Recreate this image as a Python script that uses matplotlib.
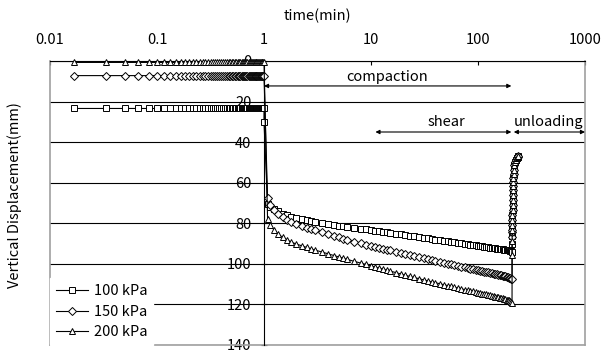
import numpy as np
import matplotlib
matplotlib.use("Agg")
import matplotlib.pyplot as plt

plt.rcParams['font.family'] = ['Noto Sans CJK JP', 'DejaVu Sans']
plt.rcParams['font.size'] = 10

# loading stages (kPa) and marker per stage
labels = ['100 kPa', '150 kPa', '200 kPa']
markers = ['s', 'D', '^']
msizes = [4.0, 4.0, 4.6]

# seating period: one reading per second during the first minute
t_seat_sec = [1, 2, 3, 4, 5, 6, 7, 8, 9, 10, 11, 12, 13, 14, 15, 16, 17, 18, 19, 20,
              21, 22, 23, 24, 25, 26, 27, 28, 29, 30, 31, 32, 33, 34, 35, 36, 37, 38, 39, 40,
              41, 42, 43, 44, 45, 46, 47, 48, 49, 50, 51, 52, 53, 54, 55, 56, 57, 58, 59, 60]
d_seat = [23.4, 7.2, 0.7]

# extra reading right at t = 1 min (100 kPa only)
t_step = [[1.0], [], []]
d_step = [[30.3], [], []]

# compaction / shear stage (min)
t_comp = [1.08, 1.15, 1.25, 1.35, 1.5, 1.65, 1.8, 2.0,
          2.25, 2.5, 2.75, 3.0, 3.5, 4.0, 4.5, 5.0,
          5.5, 6, 7, 8, 9, 10, 11, 12,
          13, 14, 15, 17, 19, 21, 23, 25,
          28, 31, 34, 37, 40, 44, 48, 52,
          56, 60, 65, 70, 75, 80, 85, 90,
          95, 100, 105, 110, 115, 120, 125, 130,
          135, 140, 145, 150, 155, 160, 165, 170,
          175, 180, 185, 190, 195, 200, 205, 208]

d_100 = [70.5, 72.0, 73.2, 74.1, 75.2, 76.0, 76.8, 77.4,
         78.0, 78.5, 79.0, 79.3, 79.8, 80.3, 80.7, 81.1,
         81.4, 81.7, 82.2, 82.6, 83.0, 83.3, 83.6, 83.9,
         84.2, 84.4, 84.7, 85.1, 85.5, 85.8, 86.1, 86.4,
         86.8, 87.1, 87.4, 87.7, 88.0, 88.3, 88.6, 88.9,
         89.1, 89.3, 89.6, 89.9, 90.1, 90.3, 90.5, 90.7,
         90.9, 91.1, 91.3, 91.4, 91.6, 91.7, 91.9, 92.0,
         92.1, 92.2, 92.4, 92.5, 92.6, 92.7, 92.8, 92.9,
         93.0, 93.1, 93.2, 93.3, 93.4, 93.6, 93.8, 94.2]

d_150 = [67.7, 71.0, 73.5, 75.2, 77.0, 78.3, 79.3, 80.4,
         81.4, 82.2, 82.9, 83.5, 84.5, 85.4, 86.2, 86.9,
         87.5, 88.1, 89.0, 89.8, 90.5, 91.1, 91.6, 92.1,
         92.6, 93.0, 93.4, 94.1, 94.7, 95.3, 95.8, 96.2,
         96.8, 97.3, 97.8, 98.2, 98.6, 99.1, 99.5, 99.9,
         100.3, 100.6, 101.0, 101.4, 101.7, 102.0, 102.3, 102.6,
         102.9, 103.1, 103.4, 103.6, 103.8, 104.0, 104.2, 104.4,
         104.6, 104.8, 105.0, 105.2, 105.4, 105.5, 105.7, 105.9,
         106.0, 106.2, 106.4, 106.6, 106.8, 107.0, 107.3, 107.6]

d_200 = [78.0, 81.0, 83.5, 85.2, 87.0, 88.2, 89.3, 90.2,
         91.1, 91.9, 92.6, 93.2, 94.2, 95.1, 95.9, 96.6,
         97.2, 97.8, 98.8, 99.6, 100.3, 101.0, 101.6, 102.1,
         102.6, 103.1, 103.5, 104.3, 105.0, 105.7, 106.2, 106.7,
         107.3, 107.9, 108.4, 108.9, 109.3, 109.8, 110.3, 110.7,
         111.1, 111.5, 111.9, 112.3, 112.7, 113.0, 113.3, 113.6,
         113.9, 114.2, 114.5, 114.7, 114.9, 115.1, 115.3, 115.5,
         115.7, 115.9, 116.1, 116.3, 116.5, 116.7, 116.8, 117.0,
         117.2, 117.4, 117.6, 117.8, 118.0, 118.3, 118.7, 119.1]

d_comp = [d_100, d_150, d_200]

# first rebound readings, then the common unloading curve
t_reb = [[208.2, 208.4], [208.2, 208.4], [208.2, 208.4]]
d_reb = [[90.0, 86.5], [87.0, 84.5], [95.5, 88.5]]

t_unl = [208.5, 209, 209.5, 210, 210.5, 211, 211.5, 212, 212.5, 213,
         213.5, 214, 215, 216, 218, 221, 225, 230, 235, 238]
d_unl = [83.5, 81.0, 78.5, 76.0, 73.5, 71.0, 68.5, 66.0, 63.5, 61.5,
         59.5, 57.5, 55.5, 53.5, 51.5, 50.0, 48.8, 47.8, 47.2, 47.0]

fig = plt.figure(figsize=(6.03, 3.52), dpi=100)
ax = fig.add_axes([50 / 603, 7 / 352, 535 / 603, 284 / 352])

t_seat = np.array(t_seat_sec) / 60.0
for i in range(3):
    t = np.concatenate([t_seat, t_step[i], t_comp, t_reb[i], t_unl])
    d = np.concatenate([np.full(len(t_seat), d_seat[i]), d_step[i], d_comp[i], d_reb[i], d_unl])
    ax.plot(t, d, color='k', lw=0.8, marker=markers[i], ms=msizes[i],
            mfc='white', mec='k', mew=0.7, label=labels[i], zorder=3,
            clip_on=False)

ax.set_xscale('log')
ax.set_xlim(0.01, 1000)
ax.set_ylim(140, 0)

xt = [0.01, 0.1, 1, 10, 100, 1000]
ax.set_xticks(xt)
ax.set_xticklabels(['0.01', '0.1', '1', '10', '100', '1000'])
ax.xaxis.set_minor_locator(matplotlib.ticker.NullLocator())
ax.xaxis.tick_top()
ax.xaxis.set_label_position('top')
ax.tick_params(axis='x', direction='in', length=3, pad=10, labelsize=10.5)
ax.set_xlabel('time(min)', labelpad=9, fontsize=10.5)

ax.set_yticks(range(0, 141, 20))
ax.tick_params(axis='y', direction='inout', length=4, pad=7, labelsize=10.5)
ax.yaxis.grid(True, color='k', lw=0.8)
ax.set_axisbelow(True)

# y axis sits at t = 1 min
ax.spines['left'].set_position(('data', 1))
ax.spines['left'].set_color('k')
ax.spines['left'].set_zorder(2.6)
ax.spines['top'].set_color('k')
for s in ['right', 'bottom']:
    ax.spines[s].set_color('#a0a0a0')
    ax.spines[s].set_linewidth(1.2)
ax.axvline(0.01, color='#a0a0a0', lw=1.2, clip_on=False, zorder=2)

fig.text(15 / 603, 1 - 195 / 352, 'Vertical Displacement(mm)', rotation=90,
         ha='center', va='center', fontsize=10.5)

# stage arrows
arr = dict(arrowstyle='<|-|>', mutation_scale=6, lw=0.8, color='k',
           shrinkA=0, shrinkB=0)
ax.annotate('', xy=(1, 12.3), xytext=(205, 12.3), arrowprops=arr)
ax.text(14.3, 8.0, 'compaction', ha='center', va='center', fontsize=10.5)
ax.annotate('', xy=(11, 35), xytext=(205, 35), arrowprops=arr)
ax.text(51, 30, 'shear', ha='center', va='center', fontsize=10.5)
ax.annotate('', xy=(216, 35), xytext=(1000, 35), arrowprops=arr, annotation_clip=False)
ax.text(460, 30, 'unloading', ha='center', va='center', fontsize=10.5)

leg = ax.legend(loc='lower left', bbox_to_anchor=(0, 0), borderaxespad=0,
                frameon=True, fancybox=False, framealpha=1, edgecolor='white',
                facecolor='white', handlelength=2.2, labelspacing=0.45,
                borderpad=0.4, handletextpad=0.4, fontsize=10.5)
leg.set_zorder(5)

fig.savefig('out.png', dpi=100)
